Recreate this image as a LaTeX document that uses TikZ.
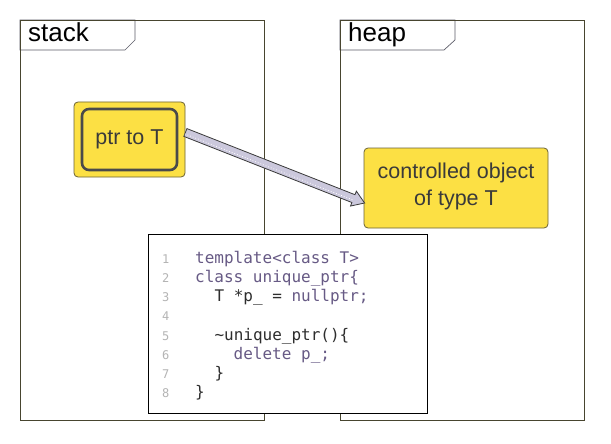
\documentclass[tikz,border=0pt]{standalone}
\usepackage{fontspec}
\setmainfont{Liberation Sans}
\newfontfamily\codefont{DejaVu Sans Mono}
\usetikzlibrary{calc}
\definecolor{frameclr}{HTML}{48452F}
\definecolor{tabclr}{HTML}{5C5C68}
\definecolor{boxfill}{HTML}{FCE044}
\definecolor{boxedge}{HTML}{6B6236}
\definecolor{innerclr}{HTML}{4A4A4A}
\definecolor{txtclr}{HTML}{3A3A3A}
\definecolor{arrowfill}{HTML}{CBC8DC}
\definecolor{arrowedge}{HTML}{3A3A3A}
\definecolor{kw}{HTML}{675A85}
\definecolor{codedark}{HTML}{2E2E2E}
\definecolor{lineno}{HTML}{B4B4B4}
\begin{document}
\begin{tikzpicture}[x=1pt,y=-1pt,
  frame/.style={draw=frameclr, line width=1.3pt, inner sep=0pt, anchor=north west},
  tabshape/.style={draw=tabclr, fill=white, line width=0.7pt},
  tablabel/.style={anchor=base west, inner sep=0pt, font=\fontsize{26}{30}\selectfont, text=black},
  yellowbox/.style={draw=boxedge, fill=boxfill, rounded corners=4pt, line width=0.8pt, inner sep=0pt},
  ptrinner/.style={draw=innerclr, line width=2.6pt, rounded corners=7pt, minimum width=95pt, minimum height=61pt, inner sep=0pt, text=txtclr, font=\fontsize{21.5}{26}\selectfont},
  arrowbody/.style={fill=arrowfill, draw=arrowedge, line width=0.8pt, line join=miter},
  codebox/.style={draw=black, fill=white, line width=1.4pt, anchor=north west, inner sep=0pt},
  codeln/.style={anchor=base west, inner sep=0pt, font=\codefont\fontsize{16}{19}\selectfont},
  numln/.style={anchor=base west, inner sep=0pt, font=\codefont\fontsize{12}{14}\selectfont, text=lineno}
]
\useasboundingbox (0,0) rectangle (611,444);
\fill[white] (0,0) rectangle (611,444);

% tabs
\draw[tabshape] (20,20) -- (135,20) -- (135,40) -- (125,50) -- (20,50) -- cycle;
\draw[tabshape] (340,20) -- (455,20) -- (455,40) -- (444,50) -- (340,50) -- cycle;
\node[tablabel] (stacklbl) at (28,42) {stack};
\node[tablabel] (heaplbl) at (348,42) {heap};

% frames
\node[frame, minimum width=244pt, minimum height=400pt] (stackfr) at (20,20) {};
\node[frame, minimum width=244pt, minimum height=400pt] (heapfr) at (340,20) {};

% ptr box
\node[yellowbox, minimum width=111pt, minimum height=75pt] (ptr) at (129.5,139.5) {};
\node[ptrinner] (ptrin) at (ptr.center) {ptr to T};

% arrow
\coordinate (aS) at ([yshift=7pt]ptr.east);
\node[yellowbox, minimum width=184pt, minimum height=80pt] (obj) at (456,188) {};
\coordinate (aT) at ([xshift=1pt,yshift=-15pt]obj.west);
\coordinate (aH) at ($(aT)!12pt!(aS)$);
\filldraw[arrowbody] ($(aS)!4.2pt!90:(aT)$) -- ($(aH)!4.2pt!90:(aT)$) -- ($(aH)!8pt!90:(aT)$) -- (aT)
  -- ($(aH)!8pt!-90:(aT)$) -- ($(aH)!4.2pt!-90:(aT)$) -- ($(aS)!4.2pt!-90:(aT)$) -- cycle;
\draw[white, dotted, line width=0.8pt] ($(aS)!1.5pt!-90:(aT)$) -- ($(aH)!1.5pt!-90:(aT)$);
\node[text=txtclr, align=center, font=\fontsize{21.5}{27}\selectfont, inner sep=0pt] (objtxt) at (456,186) {controlled object\\of type T};

% code box
\node[codebox, minimum width=279pt, minimum height=179pt] (code) at (148,234) {};
\node[numln] (n1) at (162,263) {1};
\node[numln] (n2) at (162,282.25) {2};
\node[numln] (n3) at (162,301.5) {3};
\node[numln] (n4) at (162,320.75) {4};
\node[numln] (n5) at (162,340) {5};
\node[numln] (n6) at (162,359.25) {6};
\node[numln] (n7) at (162,378.5) {7};
\node[numln] (n8) at (162,397.75) {8};
\node[codeln, text=kw] (c1) at (195,263) {template<class T>};
\node[codeln, text=kw] (c2) at (195,282.25) {class unique\_ptr\{};
\node[codeln] (c3) at (214.3,301.5) {\textcolor{codedark}{T *p\_ = }\textcolor{kw}{nullptr;}};
\node[codeln, text=codedark] (c5) at (214.3,340) {\textasciitilde unique\_ptr()\{};
\node[codeln, text=kw] (c6) at (233.5,359.25) {delete p\_;};
\node[codeln, text=codedark] (c7) at (214.3,378.5) {\}};
\node[codeln, text=codedark] (c8) at (195,397.75) {\}};
\end{tikzpicture}
\end{document}
